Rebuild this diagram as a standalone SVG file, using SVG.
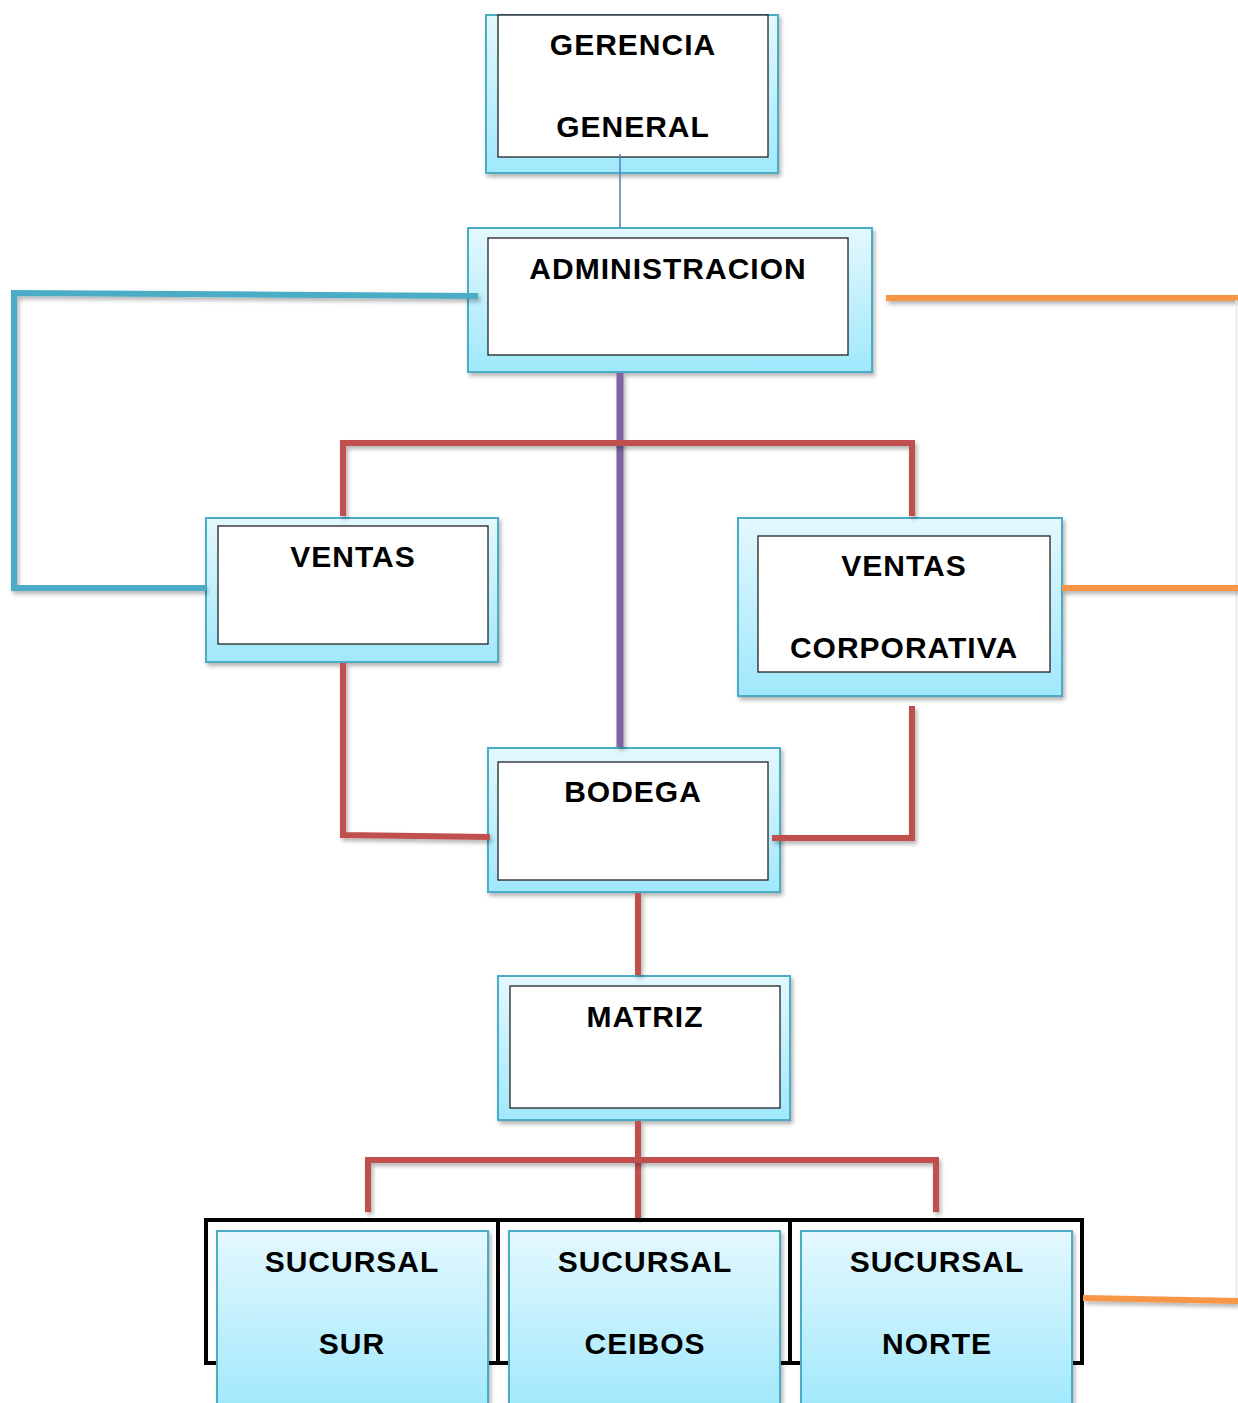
<svg xmlns="http://www.w3.org/2000/svg" width="1238" height="1403" viewBox="0 0 1238 1403">
<defs>
<linearGradient id="g" x1="0" y1="0" x2="0" y2="1">
<stop offset="0" stop-color="#E4F8FE"/>
<stop offset="1" stop-color="#A0E8FC"/>
</linearGradient>
<filter id="sh" x="-10%" y="-10%" width="130%" height="130%">
<feDropShadow dx="2" dy="3" stdDeviation="2" flood-color="#000" flood-opacity="0.3"/>
</filter>
<filter id="lsh" filterUnits="userSpaceOnUse" x="0" y="0" width="1238" height="1403">
<feDropShadow dx="2" dy="3" stdDeviation="2" flood-color="#000" flood-opacity="0.3"/>
</filter>
<style>
.outer{fill:url(#g);stroke:#4BACC6;stroke-width:2;filter:url(#sh)}
.inner{fill:#fff;stroke:#222;stroke-width:1.3}
.lbl{font-family:"Liberation Sans",Arial,sans-serif;font-weight:bold;font-size:30px;letter-spacing:1px;fill:#000;text-anchor:middle}
.red{fill:none;stroke:#C0504D;stroke-width:6;filter:url(#lsh)}
.blue{fill:none;stroke:#4BACC6;stroke-width:6;filter:url(#lsh)}
.orange{fill:none;stroke:#F79646;stroke-width:6;filter:url(#lsh)}
.frame{fill:#fff;stroke:#000;stroke-width:4}
</style>
</defs>
<rect width="1238" height="1403" fill="#fff"/>
<g id="gerencia">
<rect class="outer" x="486" y="15" width="292" height="158"/>
<rect class="inner" x="498" y="15" width="270" height="142"/>
<text class="lbl" x="633" y="55">GERENCIA</text>
<text class="lbl" x="633" y="137">GENERAL</text>
</g>
<g id="administracion">
<rect class="outer" x="468" y="228" width="404" height="144"/>
<rect class="inner" x="488" y="238" width="360" height="117"/>
<text class="lbl" x="668" y="279">ADMINISTRACION</text>
</g>
<g id="ventas">
<rect class="outer" x="206" y="518" width="292" height="144"/>
<rect class="inner" x="218" y="526" width="270" height="118"/>
<text class="lbl" x="353" y="567">VENTAS</text>
</g>
<g id="ventas-corporativa">
<rect class="outer" x="738" y="518" width="324" height="178"/>
<rect class="inner" x="758" y="536" width="292" height="136"/>
<text class="lbl" x="904" y="576">VENTAS</text>
<text class="lbl" x="904" y="658">CORPORATIVA</text>
</g>
<g id="bodega">
<rect class="outer" x="488" y="748" width="292" height="144"/>
<rect class="inner" x="498" y="762" width="270" height="118"/>
<text class="lbl" x="633" y="802">BODEGA</text>
</g>
<g id="matriz">
<rect class="outer" x="498" y="976" width="292" height="144"/>
<rect class="inner" x="510" y="986" width="270" height="122" stroke-width="2"/>
<text class="lbl" x="645" y="1027">MATRIZ</text>
</g>
<g id="sucursal-sur">
<rect class="frame" x="206" y="1220" width="292" height="143"/>
<rect class="outer" x="217" y="1231" width="271" height="180"/>
<text class="lbl" x="352" y="1272">SUCURSAL</text>
<text class="lbl" x="352" y="1354">SUR</text>
</g>
<g id="sucursal-ceibos">
<rect class="frame" x="498" y="1220" width="292" height="143"/>
<rect class="outer" x="509" y="1231" width="271" height="180"/>
<text class="lbl" x="645" y="1272">SUCURSAL</text>
<text class="lbl" x="645" y="1354">CEIBOS</text>
</g>
<g id="sucursal-norte">
<rect class="frame" x="790" y="1220" width="292" height="143"/>
<rect class="outer" x="801" y="1231" width="271" height="180"/>
<text class="lbl" x="937" y="1272">SUCURSAL</text>
<text class="lbl" x="937" y="1354">NORTE</text>
</g>
<g id="connectors">
<line x1="620" y1="154" x2="620" y2="228" stroke="#4F81BD" stroke-width="1.5"/>
<polyline class="blue" points="478,296 14,293 14,588 206,588"/>
<polyline class="orange" points="886,298 1238,298"/>
<line x1="1236.5" y1="300" x2="1236.5" y2="1300" stroke="#e6e6e6" stroke-width="1.5"/>
<polyline class="orange" points="1062,588 1238,588"/>
<polyline class="orange" points="1083,1298 1238,1301"/>
<line x1="620" y1="373" x2="620" y2="747" stroke="#8064A2" stroke-width="7" filter="url(#lsh)"/>
<polyline class="red" points="343,516 343,443 912,443 912,516"/>
<polyline class="red" points="343,663 343,835 490,837"/>
<polyline class="red" points="912,706 912,838 772,838"/>
<line class="red" x1="638" y1="893" x2="638" y2="975"/>
<line class="red" x1="638" y1="1121" x2="638" y2="1218"/>
<polyline class="red" points="368,1212 368,1160 936,1160 936,1212"/>
</g>
</svg>
